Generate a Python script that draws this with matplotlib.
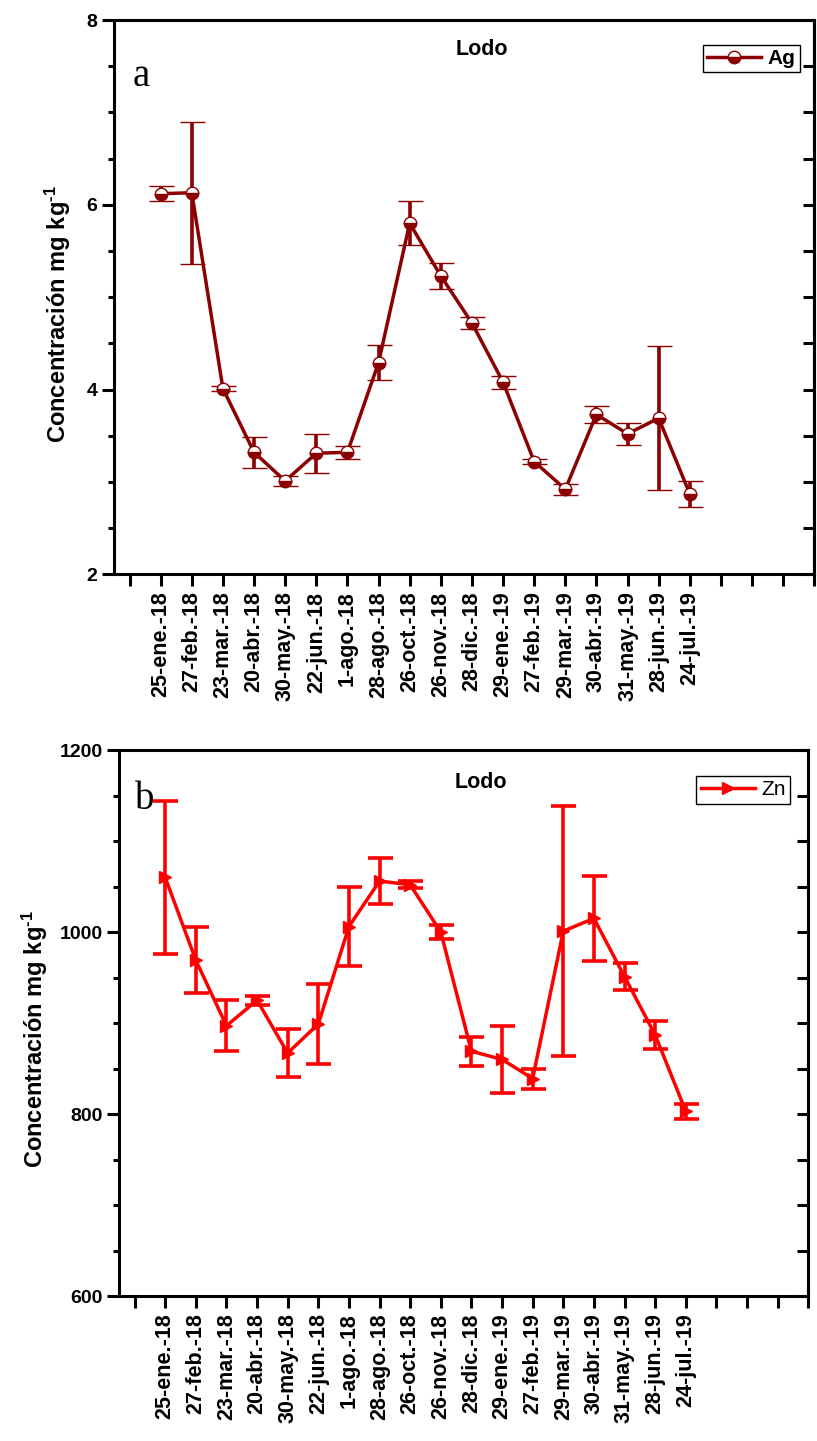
import numpy as np
import matplotlib
matplotlib.use("Agg")
import matplotlib.pyplot as plt
from matplotlib.ticker import MultipleLocator, FixedLocator
from matplotlib.lines import Line2D

plt.rcParams['font.family'] = ['Liberation Sans', 'DejaVu Sans']
plt.rcParams['mathtext.fontset'] = 'custom'
plt.rcParams['mathtext.rm'] = 'Liberation Sans:bold'
plt.rcParams['mathtext.it'] = 'Liberation Sans:bold'
plt.rcParams['mathtext.bf'] = 'Liberation Sans:bold'

labels = ['25-ene.-18', '27-feb.-18', '23-mar.-18', '20-abr.-18', '30-may.-18',
          '22-jun.-18', '1-ago.-18', '28-ago.-18', '26-oct.-18', '26-nov.-18',
          '28-dic.-18', '29-ene.-19', '27-feb.-19', '29-mar.-19', '30-abr.-19',
          '31-may.-19', '28-jun.-19', '24-jul.-19']

ag = [6.12, 6.13, 4.01, 3.32, 3.01, 3.31, 3.32, 4.29, 5.80, 5.23,
      4.72, 4.08, 3.22, 2.92, 3.73, 3.52, 3.69, 2.87]
ag_err = [0.08, 0.77, 0.03, 0.17, 0.05, 0.21, 0.07, 0.19, 0.24, 0.14,
          0.06, 0.07, 0.03, 0.06, 0.09, 0.12, 0.78, 0.14]

zn = [1060, 969, 897, 925, 867, 899, 1006, 1056, 1052, 1000,
      869, 860, 839, 1001, 1015, 951, 887, 803]
zn_err = [84, 36, 28, 5, 26, 44, 43, 25, 4, 8,
          16, 37, 11, 137, 47, 15, 15, 8]

first_pos = 2
n_slots = 23
pos = np.arange(first_pos, first_pos + len(labels))

fig = plt.figure(figsize=(8.17, 14.41), dpi=100)
ax1 = fig.add_axes([0.1395, 0.6015, 0.9967 - 0.1395, 0.9861 - 0.6015])
ax2 = fig.add_axes([0.146, 0.1006, 0.9893 - 0.146, 0.4795 - 0.1006])

DARK = '#8B0000'
RED = '#FF0000'
YLAB = 'Concentración mg kg$^{\\text{-1}}$'


def style(ax, ylim, major, minor, ylab_x):
    ax.set_xlim(0.5, n_slots)
    ax.set_ylim(*ylim)
    ticks = np.arange(1, n_slots + 1)
    ax.xaxis.set_major_locator(FixedLocator(ticks))
    tl = []
    for t in ticks:
        idx = t - first_pos
        tl.append(labels[idx] if 0 <= idx < len(labels) else '')
    ax.set_xticklabels(tl, rotation=90, fontweight='bold', fontsize=15.5)
    ax.yaxis.set_major_locator(MultipleLocator(major))
    ax.yaxis.set_minor_locator(MultipleLocator(minor))
    for s in ax.spines.values():
        s.set_linewidth(2.2)
    ax.tick_params(axis='x', which='major', direction='out', length=8.5, width=2.2,
                   bottom=True, top=False, pad=4)
    ax.tick_params(axis='y', which='major', direction='out', length=8.5, width=2.2,
                   left=True, right=False, labelsize=14)
    ax.tick_params(axis='y', which='minor', direction='out', length=4.5, width=2.2,
                   left=True, right=False)
    for lab in ax.get_yticklabels():
        lab.set_fontweight('bold')
    sec = ax.secondary_yaxis('right')
    sec.yaxis.set_major_locator(MultipleLocator(major))
    sec.yaxis.set_minor_locator(MultipleLocator(minor))
    sec.tick_params(which='both', direction='in', length=8, width=2.2, labelright=False)
    sec.spines['right'].set_linewidth(2.2)
    ax.set_ylabel(YLAB, fontsize=17, fontweight='bold')
    ax.yaxis.set_label_coords(ylab_x, 0.47)


# Panel a
style(ax1, (2, 8), 2, 0.5, -0.058)
ax1.errorbar(pos, ag, yerr=ag_err, color=DARK, lw=2.5, capsize=9, capthick=2.6,
             elinewidth=2.6, marker='o', ms=9, fillstyle='bottom',
             markerfacecolor=DARK, markerfacecoloralt='white', markeredgecolor=DARK,
             mew=1)
ax1.text(0.525, 0.947, 'Lodo', transform=ax1.transAxes, ha='center', va='center',
         fontsize=15.5, fontweight='bold')
ax1.text(0.027, 0.881, 'a', transform=ax1.transAxes, ha='left', va='baseline',
         fontsize=28, family='Liberation Serif')
h1 = Line2D([], [], color=DARK, lw=2.5, marker='o', ms=9, fillstyle='bottom',
            markerfacecolor=DARK, markerfacecoloralt='white', markeredgecolor=DARK, mew=1)
leg1 = ax1.legend([h1], ['Ag'], loc='upper right', bbox_to_anchor=(0.979, 0.955),
                  borderaxespad=0, fancybox=False, framealpha=1, edgecolor='black',
                  handlelength=2.6, handletextpad=0.3, borderpad=0.2,
                  prop={'weight': 'bold', 'size': 15})
leg1.get_frame().set_linewidth(1.0)

# Panel b
style(ax2, (600, 1200), 200, 50, -0.10)
ax2.errorbar(pos, zn, yerr=zn_err, color=RED, lw=2.5, capsize=9, capthick=2.6,
             elinewidth=2.6, marker='>', ms=9, markerfacecolor=RED,
             markeredgecolor=RED)
ax2.text(0.525, 0.94, 'Lodo', transform=ax2.transAxes, ha='center', va='center',
         fontsize=15.5, fontweight='bold')
ax2.text(0.023, 0.892, 'b', transform=ax2.transAxes, ha='left', va='baseline',
         fontsize=28, family='Liberation Serif')
h2 = Line2D([], [], color=RED, lw=2.5, marker='>', ms=9, markerfacecolor=RED,
            markeredgecolor=RED)
leg2 = ax2.legend([h2], ['Zn'], loc='upper right', bbox_to_anchor=(0.973, 0.952),
                  borderaxespad=0, fancybox=False, framealpha=1, edgecolor='black',
                  handlelength=2.6, handletextpad=0.3, borderpad=0.2,
                  prop={'size': 15})
leg2.get_frame().set_linewidth(1.0)

fig.savefig('out.png', dpi=100)
